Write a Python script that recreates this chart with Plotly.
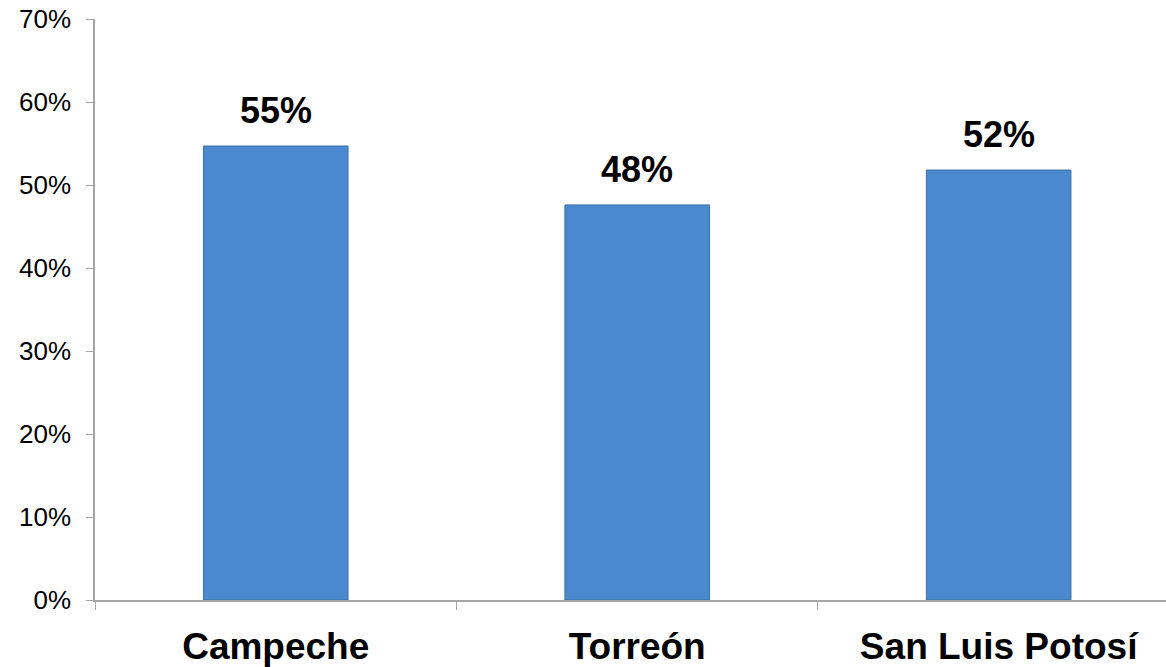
import plotly.graph_objects as go

categories = ["Campeche", "Torreón", "San Luis Potosí"]
values = [0.547, 0.476, 0.518]
labels = ["55%", "48%", "52%"]

fig = go.Figure()
fig.add_trace(go.Bar(
    x=categories, y=values, width=0.40,
    marker=dict(color="#4A89CD", line=dict(color="#3B70A8", width=1)),
    hoverinfo="skip",
))
for c, v, t in zip(categories, values, labels):
    fig.add_annotation(x=c, y=v, text=f"<b>{t}</b>", showarrow=False,
                       yanchor="bottom", yshift=13,
                       font=dict(family="Liberation Sans, Arial", size=36, color="black"))

fig.update_layout(
    width=1166, height=667,
    margin=dict(l=95, r=0, t=19, b=67),
    plot_bgcolor="white", paper_bgcolor="white",
    showlegend=False,
    font=dict(family="Liberation Sans, Arial", color="black"),
)
fig.update_xaxes(
    range=[-0.5, 2.463], showline=True, linecolor="#A6A6A6", linewidth=1.5,
    ticks="outside", tickson="boundaries", ticklen=8, tickcolor="#A6A6A6",
    tickfont=dict(size=37, family="Liberation Sans, Arial"),
    tickprefix="<b>", ticksuffix="</b>", ticklabelstandoff=13,
    showgrid=False,
)
fig.update_yaxes(
    range=[0, 0.7], dtick=0.1, tickformat=".0%", showline=True,
    linecolor="#A6A6A6", linewidth=1.5, ticks="outside", ticklen=7,
    tickcolor="#A6A6A6", tickfont=dict(size=26), showgrid=False,
    zeroline=False, ticklabelstandoff=10,
)
fig.write_html("out.html")
